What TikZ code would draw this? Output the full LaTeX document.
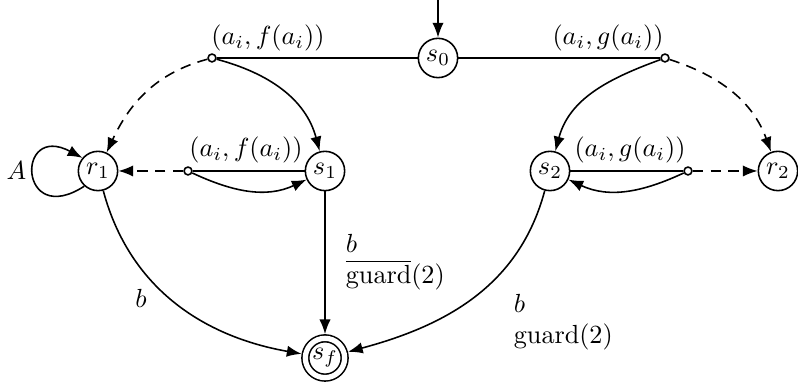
\documentclass[tikz,border=0pt]{standalone}
\usetikzlibrary{arrows.meta}
\begin{document}
\begin{tikzpicture}[x=0.3817pt,y=0.3817pt, line width=0.6pt,
  >={Latex[length=5.6pt,width=4.3pt]},
  state/.style={circle,draw,inner sep=0pt,minimum size=15pt},
  final/.style={state,double,double distance=2pt,outer sep=1.6pt},
  branch/.style={circle,draw,fill=white,inner sep=0pt,minimum size=3pt},
  dsh/.style={dash pattern=on 4pt off 2.8pt},
  lbl/.style={inner sep=0pt}]
\useasboundingbox (0,0) rectangle (798,383);
% states
\node[state] (s0) at (438,325) {$s_0$};
\node[state] (r1) at (98,212) {$r_1$};
\node[state] (s1) at (325,212) {$s_1$};
\node[state] (s2) at (550,212) {$s_2$};
\node[state] (r2) at (778,212) {$r_2$};
\node[final] (sf) at (325,25) {$s_f$};
\coordinate (init) at (438,383);
% branch points
\node[branch] (bL) at (212,325) {};
\node[branch] (bR) at (665,325) {};
\node[branch] (cL) at (188,212) {};
\node[branch] (cR) at (688,212) {};
% edges
\draw[->] (init) -- (s0);
\draw (bL) -- (s0);
\draw (s0) -- (bR);
\draw[->] (bL) to[out=-15,in=105] (s1);
\draw[->,dsh] (bL) to[out=195,in=65] (r1);
\draw (cL) -- (s1);
\draw[->] (cL) to[out=-25,in=-155] (s1);
\draw[->,dsh] (cL) -- (r1);
\draw[->] (r1.228) .. controls +(213:30pt) and +(152:29pt) .. (r1.140);
\draw[->] (r1) to[out=-75,in=170] (sf);
\draw[->] (s1) -- (sf);
\draw[->] (s2) to[out=-105,in=15] (sf);
\draw[->] (bR) to[out=200,in=75] (s2);
\draw[->,dsh] (bR) to[out=-18,in=110] (r2);
\draw (cR) -- (s2);
\draw[->] (cR) to[out=-155,in=-25] (s2);
\draw[->,dsh] (cR) -- (r2);
% labels
\node[lbl] (l1) at (268,345) {$(a_i,f(a_i))$};
\node[lbl] (l2) at (608,345) {$(a_i,g(a_i))$};
\node[lbl] (l3) at (246,233) {$(a_i,f(a_i))$};
\node[lbl] (l4) at (630,233) {$(a_i,g(a_i))$};
\node[lbl] (lA) at (16.5,212) {$A$};
\node[lbl] (lb) at (141,85) {$b$};
\node[lbl,anchor=west,align=left] (lg1) at (345,121) {$b$\\$\overline{\mathrm{guard}}(2)$};
\node[lbl,anchor=west,align=left] (lg2) at (513,61) {$b$\\$\mathrm{guard}(2)$};
\end{tikzpicture}
\end{document}
